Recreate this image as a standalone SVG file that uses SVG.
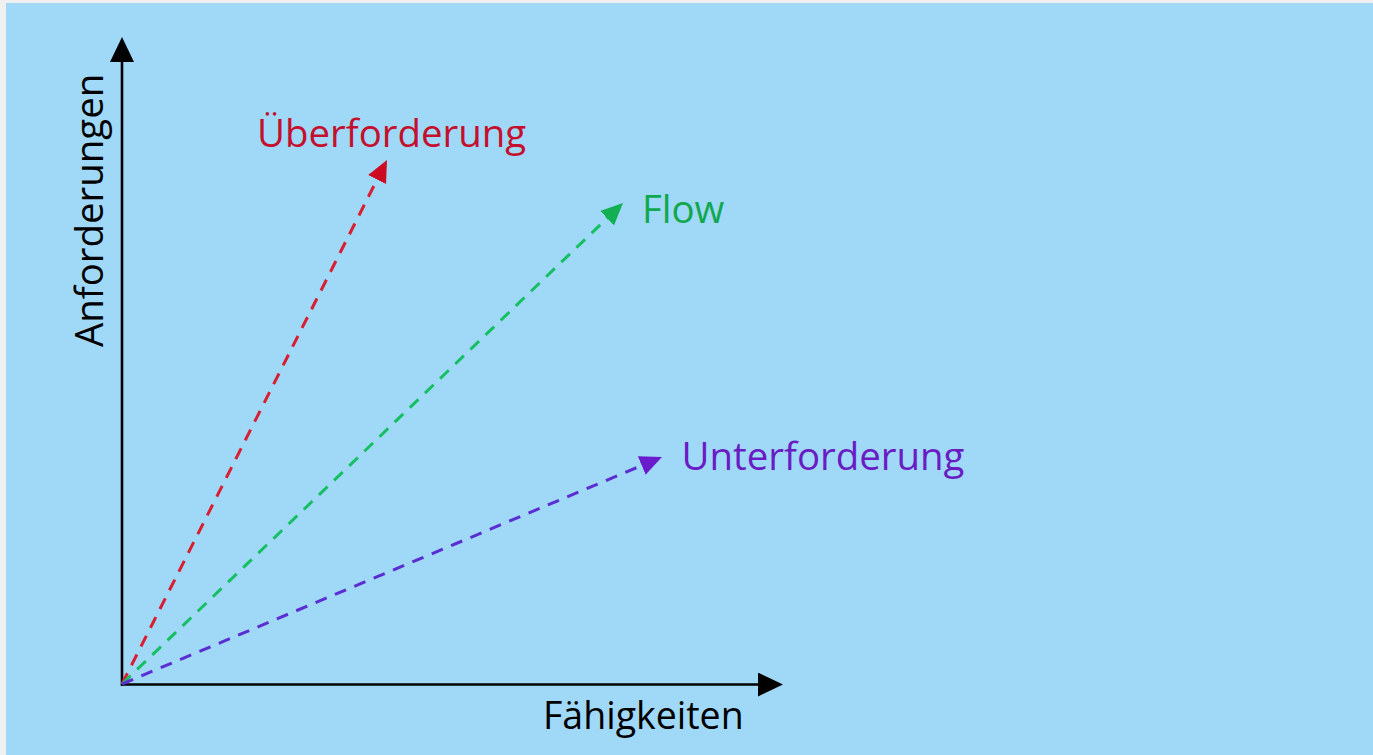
<svg xmlns="http://www.w3.org/2000/svg" width="1373" height="755" viewBox="0 0 1373 755">
  <style>
    .label { font-family: "Open Sans", "Noto Sans", sans-serif; font-size: 38.4px; font-weight: 500; }
    .axis { stroke: #000; stroke-width: 2.6; fill: none; }
    .dash { stroke-width: 3; fill: none; stroke-dasharray: 12 9; }
  </style>
  <defs>
    <marker id="head-axis" markerUnits="userSpaceOnUse" markerWidth="26" markerHeight="24" refX="2" refY="12" orient="auto">
      <path d="M0,0 L25,12 L0,24 z" fill="#000"/>
    </marker>
    <marker id="head-red" markerUnits="userSpaceOnUse" markerWidth="23" markerHeight="22" refX="14" refY="11" orient="auto">
      <path d="M0,1 L22,11 L0,21 z" fill="#cc0a22"/>
    </marker>
    <marker id="head-green" markerUnits="userSpaceOnUse" markerWidth="23" markerHeight="22" refX="14" refY="11" orient="auto">
      <path d="M0,1 L22,11 L0,21 z" fill="#12b052"/>
    </marker>
    <marker id="head-purple" markerUnits="userSpaceOnUse" markerWidth="23" markerHeight="22" refX="14" refY="11" orient="auto">
      <path d="M0,1 L22,11 L0,21 z" fill="#6a1ccc"/>
    </marker>
  </defs>

  <!-- page frame and chart background -->
  <rect x="0" y="0" width="1373" height="755" fill="#f0f0f0"/>
  <rect x="6" y="3" width="1367" height="752" fill="#a0d8f8"/>

  <g id="connectors">
    <!-- axes -->
    <line class="axis" x1="122" y1="686" x2="122" y2="60" marker-end="url(#head-axis)"/>
    <line class="axis" x1="121" y1="684.5" x2="760" y2="684.5" marker-end="url(#head-axis)"/>
    <!-- dashed trend arrows from the origin -->
    <line class="dash" stroke="#d81e30" x1="122" y1="684" x2="383.4" y2="167.1" marker-end="url(#head-red)"/>
    <line class="dash" stroke="#16c062" x1="122" y1="684" x2="617.2" y2="208.5" marker-end="url(#head-green)"/>
    <line class="dash" stroke="#5a2ed2" x1="122" y1="684" x2="654.6" y2="460.1" marker-end="url(#head-purple)"/>
  </g>

  <g id="axis-y-label">
    <text class="label" fill="#000" transform="translate(103,347) rotate(-90)">Anforderungen</text>
  </g>
  <g id="axis-x-label">
    <text class="label" fill="#000" x="543" y="729" style="font-size:37.5px">Fähigkeiten</text>
  </g>
  <g id="ueberforderung">
    <text class="label" fill="#c4102c" x="257" y="147">Überforderung</text>
  </g>
  <g id="flow">
    <text class="label" fill="#10a84e" x="642" y="223">Flow</text>
  </g>
  <g id="unterforderung">
    <text class="label" fill="#6a1cc4" x="681.5" y="470">Unterforderung</text>
  </g>
</svg>
